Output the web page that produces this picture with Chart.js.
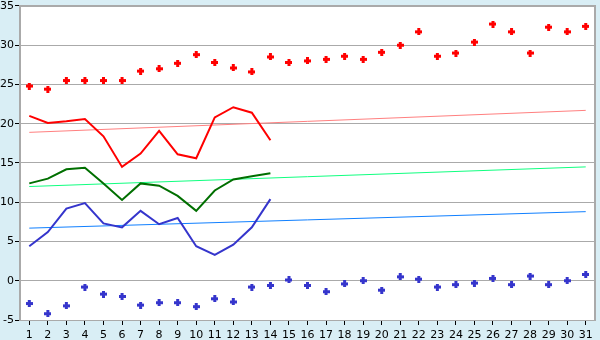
<!DOCTYPE html>
<html>
<head>
<meta charset="utf-8">
<script src="https://cdn.jsdelivr.net/npm/chart.js@4"></script>
<style>
  html, body { margin: 0; padding: 0; background: #d9eef5; }
  #wrap { width: 600px; height: 340px; }
</style>
</head>
<body>
<div id="wrap"><canvas id="chart" width="600" height="340"></canvas></div>
<script>
// ---- Datos ----
const days = ['1','2','3','4','5','6','7','8','9','10','11','12','13','14','15','16',
  '17','18','19','20','21','22','23','24','25','26','27','28','29','30','31'];

const redDots = [24.8, 24.4, 25.5, 25.5, 25.5, 25.5, 26.7, 27.0, 27.7, 28.8, 27.8, 27.1, 26.6, 28.5, 27.8, 28.0,
  28.2, 28.6, 28.2, 29.1, 30.0, 31.7, 28.6, 29.0, 30.4, 32.7, 31.7, 29.0, 32.3, 31.7, 32.4];
const redLine = [21.0, 20.1, 20.3, 20.6, 18.4, 14.5, 16.2, 19.1, 16.1, 15.6, 20.8, 22.1, 21.4, 17.9];
const greenLine = [12.4, 13.0, 14.2, 14.4, 12.4, 10.3, 12.4, 12.1, 10.8, 8.9, 11.5, 12.9, 13.3, 13.7];
const blueLine = [4.4, 6.2, 9.2, 9.9, 7.3, 6.8, 8.9, 7.2, 8.0, 4.4, 3.3, 4.6, 6.8, 10.4];
const blueDots = [-2.9, -4.2, -3.2, -0.8, -1.7, -2.0, -3.1, -2.8, -2.8, -3.3, -2.3, -2.7, -0.8, -0.6, 0.1, -0.6,
  -1.4, -0.4, 0.0, -1.2, 0.5, 0.2, -0.8, -0.5, -0.3, 0.3, -0.5, 0.6, -0.5, 0.0, 0.8];

// tendencias: valor en el día 1 y en el día 31
const redTrend = [18.9, 21.7];
const greenTrend = [12.0, 14.5];
const blueTrend = [6.7, 8.8];

const yTicks = [-5, 0, 5, 10, 15, 20, 25, 30, 35];

// ---- Helpers ----
function trendData(ends) {
  return days.map((d, i) => i === 0 ? ends[0] : (i === days.length - 1 ? ends[1] : null));
}

// marcador en forma de cruz gruesa
function makeMarker(color) {
  const c = document.createElement('canvas');
  c.width = 7; c.height = 7;
  const ctx = c.getContext('2d');
  ctx.fillStyle = color;
  ctx.fillRect(2, 0, 3, 7);
  ctx.fillRect(0, 2, 7, 3);
  return c;
}

const frame = {
  id: 'frame',
  beforeDraw(chart) {
    const { ctx, chartArea: a } = chart;
    ctx.save();
    ctx.fillStyle = '#ffffff';
    ctx.fillRect(a.left, a.top, a.right - a.left, a.bottom - a.top);
    ctx.restore();
  },
  afterDraw(chart) {
    const { ctx, chartArea: a } = chart;
    ctx.save();
    ctx.strokeStyle = '#aaaaaa';
    ctx.lineWidth = 2;
    ctx.beginPath();
    ctx.moveTo(a.left, a.top);
    ctx.lineTo(a.right, a.top);
    ctx.lineTo(a.right, a.bottom);
    ctx.stroke();
    ctx.restore();
  }
};

Chart.defaults.font.family = "'DejaVu Sans', Verdana, sans-serif";
Chart.defaults.font.size = 11;
Chart.defaults.color = '#000';

const line = (data, color, width) => ({
  type: 'line', data, borderColor: color, borderWidth: width,
  pointRadius: 0, fill: false, tension: 0, spanGaps: true
});
const dots = (data, color) => ({
  type: 'line', data, showLine: false, borderColor: color, backgroundColor: color,
  pointStyle: makeMarker(color), pointRadius: 3.5
});

new Chart(document.getElementById('chart'), {
  type: 'line',
  data: {
    labels: days,
    datasets: [
      dots(redDots, '#ff0000'),
      line(redLine, '#ff0000', 2),
      line(greenLine, '#006f00', 2),
      line(blueLine, '#3535cc', 2),
      dots(blueDots, '#3535cc'),
      line(trendData(redTrend), '#ff8080', 1),
      line(trendData(greenTrend), '#10ff80', 1),
      line(trendData(blueTrend), '#1080ff', 1)
    ]
  },
  options: {
    responsive: false,
    animation: false,
    layout: { padding: { top: 0, right: 5, left: 0, bottom: 0 } },
    plugins: { legend: { display: false }, tooltip: { enabled: false } },
    scales: {
      x: {
        offset: true,
        grid: { drawOnChartArea: false, tickLength: 5, tickColor: '#000', offset: false },
        border: { color: '#aaaaaa', width: 1 },
        ticks: { autoSkip: false, maxRotation: 0, padding: 4 },
        afterFit: (s) => { s.height = 20; }
      },
      y: {
        min: -5, max: 35,
        afterBuildTicks: (s) => { s.ticks = yTicks.map(v => ({ value: v })); },
        grid: { color: '#aaaaaa', tickLength: 5, tickColor: '#000' },
        border: { color: '#aaaaaa', width: 2 },
        ticks: { padding: 1, font: { size: 11, lineHeight: 0.9 } },
        afterFit: (s) => { s.width = 20; }
      }
    }
  },
  plugins: [frame]
});
</script>
</body>
</html>
